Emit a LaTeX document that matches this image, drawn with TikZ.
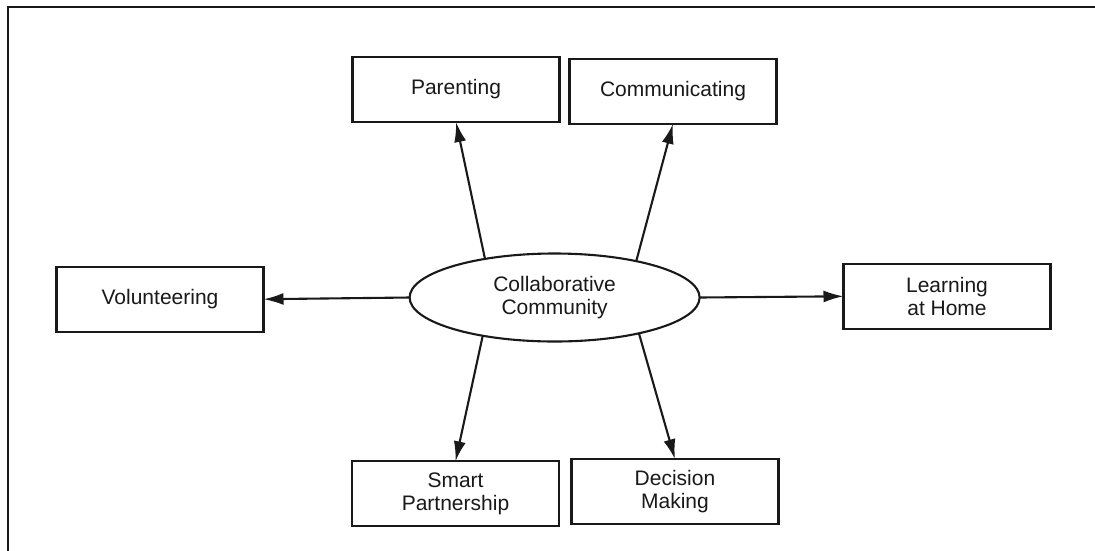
\documentclass[tikz,border=0pt]{standalone}
\usepackage{fontspec}
\setmainfont{Liberation Sans}
\usetikzlibrary{shapes.geometric,arrows.meta}
\definecolor{ink}{RGB}{25,25,25}
\begin{document}
\begin{tikzpicture}[x=1pt,y=-1pt,
  every node/.style={font=\fontsize{21}{23.5}\selectfont, text=ink},
  boxnode/.style={draw=ink, line width=2.1pt, rectangle, minimum width=207pt, minimum height=65pt, inner sep=0pt, outer sep=0pt, align=center},
  hub/.style={draw=ink, line width=2.1pt, ellipse, minimum width=290pt, minimum height=88pt, inner sep=0pt, outer sep=0pt, align=center},
  link/.style={draw=ink, line width=2.1pt, -{Latex[length=20pt,width=12pt]}}
]
\useasboundingbox (0,0) rectangle (1095,550);
\fill[white] (0,0) rectangle (1095,550);
% outer frame (only top and left edges visible)
\draw[ink, line width=2.8pt] (8,551) -- (8,7) -- (1096,7);

\node[hub] (cc) at (554.6,297.5) {Collaborative\\Community};
\node[boxnode] (par) at (456,89.5) {Parenting};
\node[boxnode] (com) at (673,91.3) {Communicating};
\node[boxnode] (vol) at (160,299.2) {Volunteering};
\node[boxnode] (lah) at (947,296.3) {Learning\\at Home};
\node[boxnode] (sp) at (455.5,493.8) {Smart\\Partnership};
\node[boxnode] (dm) at (675,491.7) {Decision\\Making};

\draw[link] (cc.151) -- (par.south);
\draw[link] (cc.24) -- (com.south);
\draw[link] (cc.west) -- (vol.east);
\draw[link] (cc.east) -- (lah.west);
\draw[link] (cc.208) -- (sp.north);
\draw[link] (cc.337) -- (dm.north);
\end{tikzpicture}
\end{document}
